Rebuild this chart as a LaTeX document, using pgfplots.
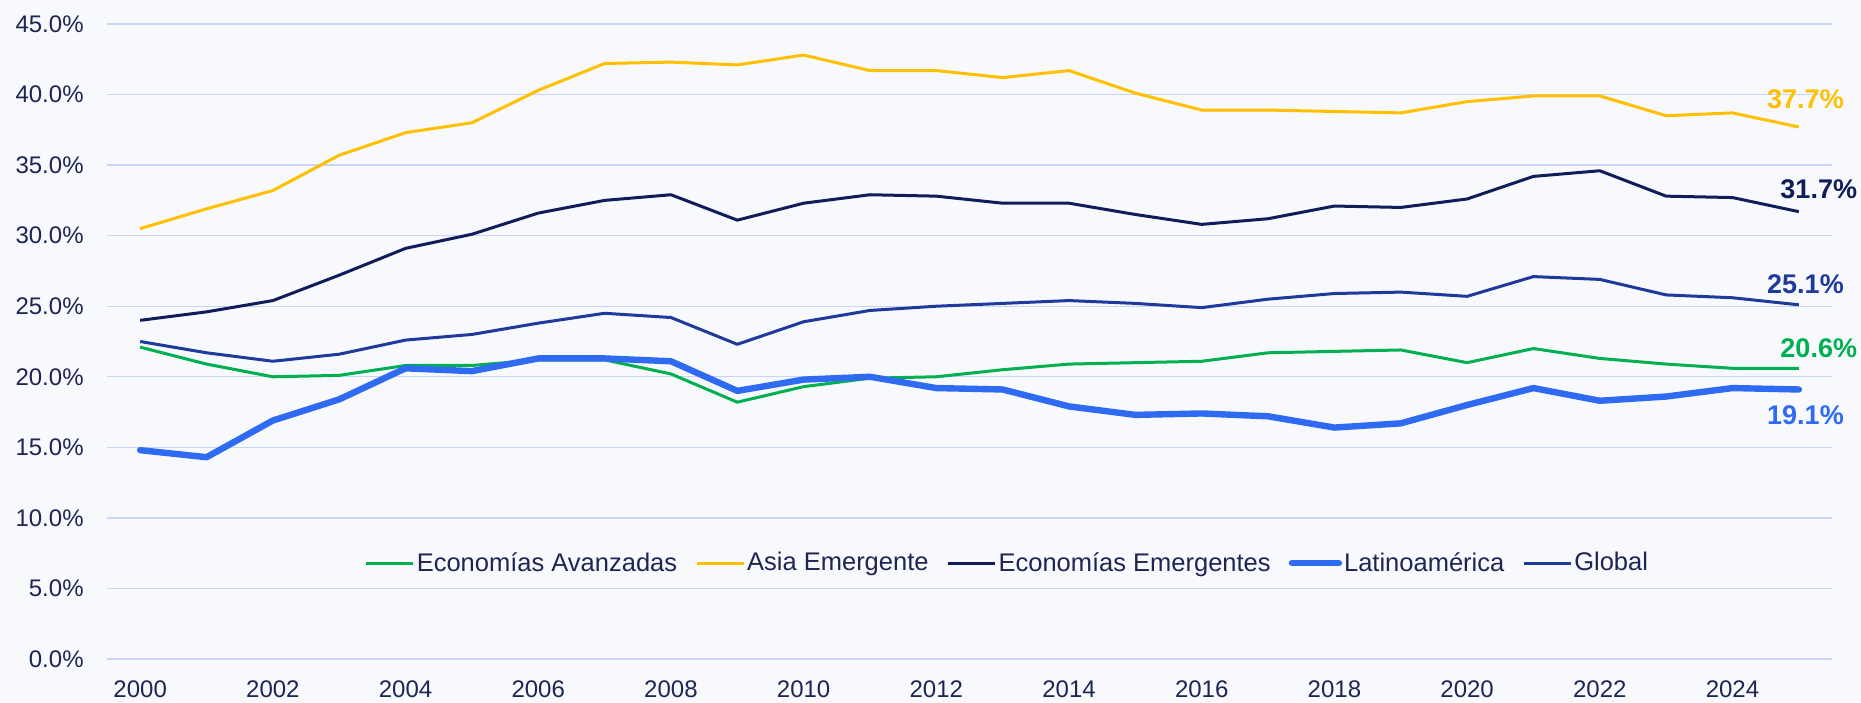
\documentclass[border=0pt]{standalone}
\usepackage{fontspec}
\setmainfont{Liberation Sans}
\usepackage{pgfplots}
\usepackage{pgfplotstable}
\pgfplotsset{compat=1.18}
\definecolor{bg}{HTML}{F8F9FC}
\definecolor{gridc}{HTML}{C9D5F6}
\definecolor{txt}{HTML}{1C2553}
\definecolor{cAv}{HTML}{00B050}
\definecolor{cAs}{HTML}{FFC000}
\definecolor{cEm}{HTML}{0F1E5A}
\definecolor{cLa}{HTML}{2E6BF2}
\definecolor{cGl}{HTML}{1F3A9A}
\pgfplotstableread{
year av as em la gl
2000 22.1 30.5 24.0 14.8 22.5
2001 20.9 31.9 24.6 14.3 21.7
2002 20.0 33.2 25.4 16.9 21.1
2003 20.1 35.7 27.2 18.4 21.6
2004 20.8 37.3 29.1 20.6 22.6
2005 20.8 38.0 30.1 20.4 23.0
2006 21.2 40.3 31.6 21.3 23.8
2007 21.2 42.2 32.5 21.3 24.5
2008 20.2 42.3 32.9 21.1 24.2
2009 18.2 42.1 31.1 19.0 22.3
2010 19.3 42.8 32.3 19.8 23.9
2011 19.9 41.7 32.9 20.0 24.7
2012 20.0 41.7 32.8 19.2 25.0
2013 20.5 41.2 32.3 19.1 25.2
2014 20.9 41.7 32.3 17.9 25.4
2015 21.0 40.1 31.5 17.3 25.2
2016 21.1 38.9 30.8 17.4 24.9
2017 21.7 38.9 31.2 17.2 25.5
2018 21.8 38.8 32.1 16.4 25.9
2019 21.9 38.7 32.0 16.7 26.0
2020 21.0 39.5 32.6 18.0 25.7
2021 22.0 39.9 34.2 19.2 27.1
2022 21.3 39.9 34.6 18.3 26.9
2023 20.9 38.5 32.8 18.6 25.8
2024 20.6 38.7 32.7 19.2 25.6
2025 20.6 37.7 31.7 19.1 25.1
}\datatab
\begin{document}
\begin{tikzpicture}
\path[use as bounding box, fill=bg] (0,0) rectangle (930.5pt,351pt);
\begin{axis}[
  at={(53.5pt,21.5pt)}, anchor=south west,
  scale only axis, width=862.5pt, height=317.5pt,
  xmin=1999.5, xmax=2025.5, ymin=0, ymax=45,
  xtick={2000,2002,...,2024}, ytick={0,5,...,45},
  axis line style={draw=none},
  major tick length=0pt,
  ymajorgrids, grid style={gridc, line width=0.7pt},
  /pgf/number format/assume math mode=true,
  x tick label style={/pgf/number format/1000 sep={}, font=\fontsize{12}{14}\selectfont, text=txt, anchor=north, inner sep=0pt, yshift=-10.5pt},
  yticklabel={\pgfmathprintnumber[fixed,fixed zerofill,precision=1]{\tick}\%},
  y tick label style={font=\fontsize{12}{14}\selectfont, text=txt, anchor=east, inner sep=0pt, xshift=-11.5pt},
  clip=false,
  legend columns=5,
  legend style={at={(0.5214,0.151)}, anchor=center, draw=none, fill=none,
    font=\fontsize{12.75}{15}\selectfont, text=txt,
    nodes={inner xsep=0pt, inner ysep=1pt},
    /tikz/every odd column/.append style={column sep=1pt},
    /tikz/every even column/.append style={column sep=9pt}},
  legend image code/.code={\draw[#1] (0pt,0pt) -- (23.5pt,0pt);},
  every axis plot/.append style={line join=round},
]
\addplot[cAv, line width=1.5pt] table[x=year, y=av] {\datatab};
\addlegendentry{Economías Avanzadas}
\addplot[cAs, line width=1.5pt] table[x=year, y=as] {\datatab};
\addlegendentry{Asia Emergente}
\addplot[cEm, line width=1.5pt] table[x=year, y=em] {\datatab};
\addlegendentry{Economías Emergentes}
\addplot[cLa, line width=3.2pt, line cap=round] table[x=year, y=la] {\datatab};
\addlegendentry{Latinoamérica}
\addplot[cGl, line width=1.5pt] table[x=year, y=gl] {\datatab};
\addlegendentry{Global}
\node[text=cAs, font=\fontsize{13.5}{15}\selectfont\bfseries] at (axis cs:2025.1,39.65) {37.7\%};
\node[text=cEm, font=\fontsize{13.5}{15}\selectfont\bfseries] at (axis cs:2025.3,33.26) {31.7\%};
\node[text=cGl, font=\fontsize{13.5}{15}\selectfont\bfseries] at (axis cs:2025.1,26.54) {25.1\%};
\node[text=cAv, font=\fontsize{13.5}{15}\selectfont\bfseries] at (axis cs:2025.3,22.04) {20.6\%};
\node[text=cLa, font=\fontsize{13.5}{15}\selectfont\bfseries] at (axis cs:2025.1,17.26) {19.1\%};
\end{axis}
\end{tikzpicture}
\end{document}
